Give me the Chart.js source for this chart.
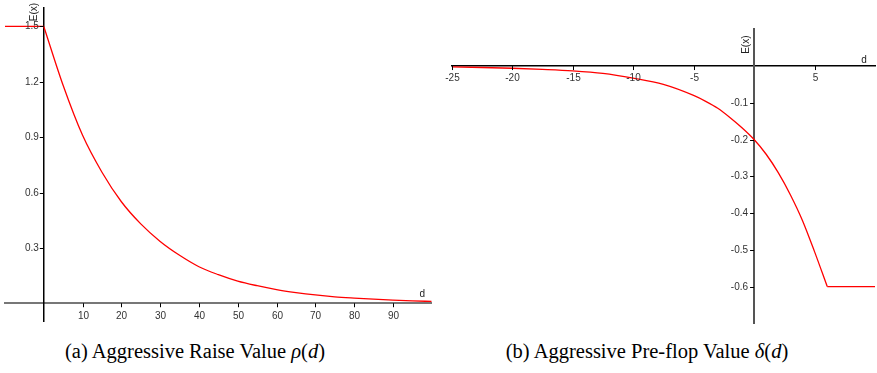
<!DOCTYPE html>
<html>
<head>
<meta charset="utf-8">
<script src="https://cdn.jsdelivr.net/npm/chart.js@4.4.0/dist/chart.umd.min.js"></script>
<style>
body { margin: 0; background: #fff; width: 877px; height: 373px; overflow: hidden; position: relative; }
canvas { position: absolute; top: 0; }
#chartA { left: 0; }
#chartB { left: 440px; }
.cap { position: absolute; top: 340px; font-family: "Liberation Serif", "Times New Roman", serif; font-size: 20.5px; color: #000; white-space: nowrap; transform: translateX(-50%); }
</style>
</head>
<body>
<canvas id="chartA" width="440" height="330"></canvas>
<canvas id="chartB" width="437" height="330"></canvas>
<div class="cap" style="left:195px">(a) Aggressive Raise Value <i>ρ</i>(<i>d</i>)</div>
<div class="cap" style="left:647px">(b) Aggressive Pre-flop Value <i>δ</i>(<i>d</i>)</div>
<script>
// (a) raise value
var flatA_d = [-10, 0];
var flatA_e = [1.5, 1.5];
var curveA_d = [0, 5, 10, 15, 20, 25, 30, 35, 40, 45, 50, 55, 60, 65, 70, 75, 80, 85, 90, 95, 100];
var curveA_e = [1.5, 1.18, 0.91, 0.71, 0.55, 0.43, 0.335, 0.26, 0.198, 0.155, 0.12, 0.095, 0.074, 0.058, 0.045, 0.035, 0.028, 0.022, 0.017, 0.013, 0.01];
var xTicksA = [10, 20, 30, 40, 50, 60, 70, 80, 90];
var yTicksA = [0.3, 0.6, 0.9, 1.2, 1.5];

// (b) pre-flop value
var curveB_d = [-25, -22.5, -20, -17.5, -15, -12.5, -10, -7.5, -5, -4, -3, -2, -1, 0, 1, 2, 3, 4, 5, 6.05];
var curveB_e = [-0.002, -0.004, -0.006, -0.009, -0.013, -0.02, -0.033, -0.05, -0.08, -0.096, -0.115, -0.14, -0.168, -0.2, -0.24, -0.29, -0.35, -0.42, -0.505, -0.6];
var flatB_d = [6.05, 10];
var flatB_e = [-0.6, -0.6];
var xTicksB = [-25, -20, -15, -10, -5, 5];
var yTicksB = [-0.1, -0.2, -0.3, -0.4, -0.5, -0.6];

function pts(xs, ys) {
    return xs.map(function(v, i) { return {x: v, y: ys[i]}; });
}

// tick marks, tick labels and axis names drawn next to the crossing axes
var axisDeco = {
    id: 'axisDeco',
    afterDraw: function(chart, args, opts) {
        var ctx = chart.ctx;
        var sx = chart.scales.x, sy = chart.scales.y;
        var x0 = sx.getPixelForValue(0);
        var y0 = sy.getPixelForValue(0);
        ctx.save();
        ctx.font = '10px "Liberation Sans"';
        ctx.strokeStyle = '#000';
        ctx.lineWidth = 1;
        ctx.fillStyle = '#333';

        // x ticks
        ctx.textAlign = 'center';
        ctx.textBaseline = 'middle';
        opts.xt.forEach(function(v) {
            var px = Math.round(sx.getPixelForValue(v)) + 0.5;
            ctx.beginPath();
            ctx.moveTo(px, y0);
            ctx.lineTo(px, y0 + 4);
            ctx.stroke();
            ctx.fillText(String(v), px, y0 + opts.xLab);
        });

        // y ticks
        ctx.textAlign = 'right';
        opts.yt.forEach(function(v) {
            var py = Math.round(sy.getPixelForValue(v)) + 0.5;
            ctx.beginPath();
            ctx.moveTo(x0 - 4, py);
            ctx.lineTo(x0, py);
            ctx.stroke();
            ctx.fillText(String(v), x0 + opts.yLab, py);
        });

        // axis names
        ctx.fillStyle = '#222';
        ctx.textAlign = 'center';
        ctx.fillText('d', chart.chartArea.right + opts.dX, y0 + opts.dY);
        ctx.translate(x0 + opts.eX, chart.chartArea.top + opts.eY);
        ctx.rotate(-Math.PI / 2);
        ctx.fillText('E(x)', 0, 0);
        ctx.restore();
    }
};

function makeChart(id, sets, xr, yr, xAxisCol, xAxisW, yAxisCol, yAxisW, pad, deco) {
    var ctx = document.getElementById(id);
    return new Chart(ctx, {
        type: 'line',
        data: {
            datasets: sets.map(function(s) {
                return {
                    data: s,
                    borderColor: '#ff0000',
                    borderWidth: 1.3,
                    pointRadius: 0,
                    cubicInterpolationMode: 'monotone',
                    fill: false
                };
            })
        },
        options: {
            responsive: false,
            animation: false,
            layout: {padding: pad},
            plugins: {
                legend: {display: false},
                tooltip: {enabled: false},
                axisDeco: deco
            },
            scales: {
                x: {
                    type: 'linear',
                    min: xr[0],
                    max: xr[1],
                    position: {y: 0},
                    afterFit: function(s) { s.height = 0; },
                    grid: {display: false},
                    border: {display: true, color: xAxisCol, width: xAxisW},
                    ticks: {display: false}
                },
                y: {
                    type: 'linear',
                    min: yr[0],
                    max: yr[1],
                    position: {x: 0},
                    afterFit: function(s) { s.width = 0; },
                    grid: {display: false},
                    border: {display: true, color: yAxisCol, width: yAxisW},
                    ticks: {display: false}
                }
            }
        },
        plugins: [axisDeco]
    });
}

makeChart('chartA',
    [pts(flatA_d, flatA_e), pts(curveA_d, curveA_e)],
    [-10, 100], [-0.1, 1.6],
    '#777', 2, '#000', 1.5,
    {left: 5, right: 8.3, top: 8, bottom: 8.3},
    {xt: xTicksA, yt: yTicksA, xLab: 13.5, yLab: -5, dX: -9.4, dY: -9, eX: -10, eY: 4});

makeChart('chartB',
    [pts(curveB_d, curveB_e), pts(flatB_d, flatB_e)],
    [-25, 10], [-0.7, 0.1],
    '#000', 1.5, '#555', 2,
    {left: 11.7, right: 2, top: 29.3, bottom: 6.7},
    {xt: xTicksB, yt: yTicksB, xLab: 12.6, yLab: -6, dX: -11, dY: -5.7, eX: -8.3, eY: 15.4});
</script>
</body>
</html>
